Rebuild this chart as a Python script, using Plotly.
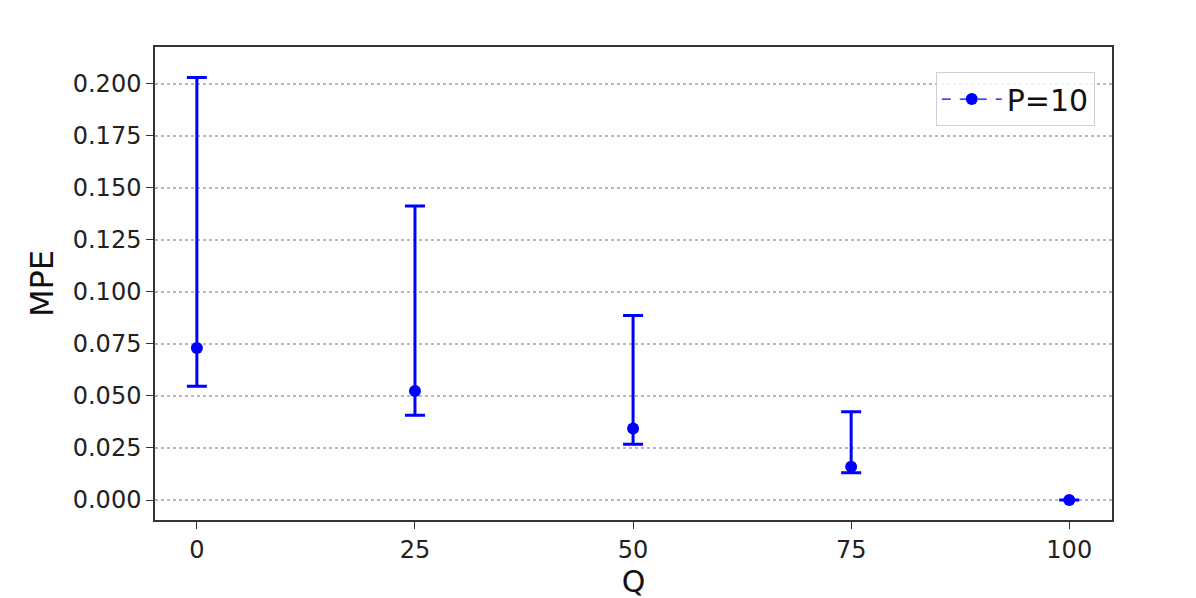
import plotly.graph_objects as go

q_values = [0, 25, 50, 75, 100]
mpe_mean = [0.0730, 0.0524, 0.0343, 0.0160, 0.0000]
mpe_upper = [0.2029, 0.1412, 0.0886, 0.0424, 0.0000]
mpe_lower = [0.0546, 0.0407, 0.0268, 0.0131, 0.0000]
y_ticks = [0.0, 0.025, 0.05, 0.075, 0.1, 0.125, 0.15, 0.175, 0.2]
x_ticks = [0, 25, 50, 75, 100]
series_name = "P=10"

err_plus = [u - m for u, m in zip(mpe_upper, mpe_mean)]
err_minus = [m - l for m, l in zip(mpe_mean, mpe_lower)]

blue = "#0000ff"
fig = go.Figure()
fig.add_trace(go.Scatter(
    x=q_values, y=mpe_mean, mode="markers",
    marker=dict(color=blue, size=12),
    error_y=dict(type="data", symmetric=False, array=err_plus, arrayminus=err_minus,
                 color=blue, thickness=3, width=10),
    showlegend=False,
))
fig.add_trace(go.Scatter(
    x=[None], y=[None], mode="lines+markers", name=series_name,
    line=dict(color=blue, dash="dash", width=1.2),
    marker=dict(color=blue, size=12),
))

axis_common = dict(
    showline=True, linecolor="#333333", linewidth=1.5, mirror=True,
    ticks="outside", ticklen=7, tickwidth=1.2, tickcolor="#333333",
    tickfont=dict(family="DejaVu Sans", size=24, color="#222222"),
    zeroline=False,
)
fig.update_xaxes(
    range=[-4.8, 104.9], tickvals=x_ticks, showgrid=False,
    title=dict(text="Q", font=dict(family="DejaVu Sans", size=30, color="#111111"), standoff=2),
    **axis_common,
)
fig.update_yaxes(
    range=[-0.0096, 0.2176], tickvals=y_ticks, tickformat=".3f",
    showgrid=True, gridcolor="#b8b8b8", griddash="dot", gridwidth=2,
    title=dict(text="MPE", font=dict(family="DejaVu Sans", size=32, color="#111111"), standoff=10),
    **axis_common,
)
fig.update_layout(
    width=1196, height=598,
    margin=dict(l=147, r=92, t=39, b=86),
    plot_bgcolor="white", paper_bgcolor="white",
    font=dict(family="DejaVu Sans"),
    legend=dict(
        x=0.982, y=0.947, xanchor="right", yanchor="top",
        bgcolor="rgba(255,255,255,0.8)", bordercolor="#d0d0d0", borderwidth=1,
        font=dict(family="DejaVu Sans", size=30, color="#111111"),
        itemwidth=60,
    ),
)
fig.write_html("out.html")
